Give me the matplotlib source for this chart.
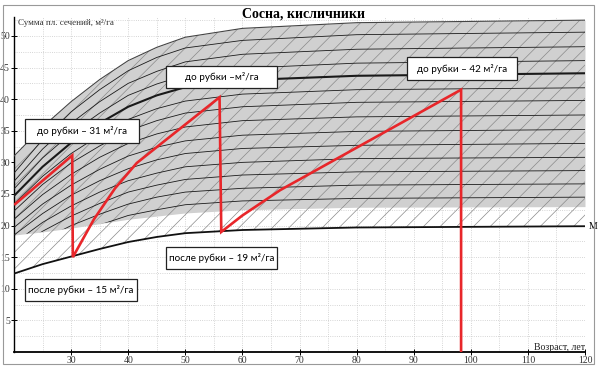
import numpy as np
import matplotlib
matplotlib.use("Agg")
import matplotlib.pyplot as plt
from matplotlib.patches import Polygon, Rectangle

plt.rcParams['hatch.linewidth'] = 0.5

# ages for the background curves of the chart
ages = [20, 25, 30, 35, 40, 45, 50, 60, 80, 120]

# grey band (upper and lower edge) and the M line
band_top = [31.0, 35.6, 39.6, 43.1, 46.1, 48.2, 49.8, 51.2, 52.1, 52.5]
band_low = [18.5, 19.0, 19.6, 20.3, 21.0, 21.5, 22.0, 22.5, 22.9, 23.0]
m_line = [12.4, 13.9, 15.1, 16.3, 17.4, 18.2, 18.8, 19.3, 19.7, 19.9]

# growth curves inside the band (the 4th one is drawn thick)
curves = [
    [28.3, 33.6, 38.0, 41.5, 44.5, 46.6, 48.1, 49.3, 50.2, 50.6],
    [27.0, 32.1, 36.2, 39.6, 42.5, 44.4, 45.9, 47.1, 47.9, 48.3],
    [25.8, 30.7, 34.6, 37.8, 40.6, 42.4, 43.8, 44.9, 45.7, 46.1],
    [24.7, 29.3, 33.1, 36.2, 38.8, 40.6, 41.9, 43.0, 43.7, 44.1],
    [23.4, 27.8, 31.4, 34.3, 36.8, 38.5, 39.7, 40.8, 41.5, 41.8],
    [22.3, 26.5, 29.9, 32.6, 35.0, 36.6, 37.8, 38.8, 39.5, 39.8],
    [21.0, 24.9, 28.1, 30.8, 33.0, 34.5, 35.6, 36.6, 37.2, 37.5],
    [19.7, 23.4, 26.4, 28.9, 31.0, 32.4, 33.4, 34.3, 34.9, 35.2],
    [18.5, 21.9, 24.8, 27.1, 29.0, 30.4, 31.4, 32.2, 32.7, 33.0],
    [17.2, 20.5, 23.1, 25.3, 27.1, 28.3, 29.3, 30.0, 30.6, 30.8],
    [16.1, 19.1, 21.5, 23.5, 25.3, 26.4, 27.3, 28.0, 28.5, 28.7],
    [14.9, 17.7, 20.0, 21.8, 23.4, 24.5, 25.3, 25.9, 26.4, 26.6],
    [13.7, 16.3, 18.4, 20.1, 21.6, 22.5, 23.3, 23.9, 24.3, 24.5],
]
thick_idx = 3

# red thinning path
cut_age = [20.2, 30.2, 30.3, 34.0, 37.7, 41.5, 56.0, 56.3, 60.0, 66.6, 98.3, 98.3]
cut_ba = [23.4, 31.1, 15.0, 21.0, 25.9, 29.9, 40.3, 19.0, 21.6, 25.6, 41.5, 0.0]

labels = ["до рубки – 31 м²/га", "до рубки –м²/га", "до рубки – 42 м²/га",
          "после рубки – 19 м²/га", "после рубки – 15 м²/га"]

W, H = 600, 381
fig = plt.figure(figsize=(W / 100, H / 100), dpi=100)
ax = fig.add_axes([14 / W, 29 / H, 571 / W, 335 / H])
ax.set_xlim(20, 120)
ax.set_ylim(0, 53)

ax.set_xticks(range(30, 121, 10))
ax.set_yticks(range(5, 51, 5))
ax.set_xticks(range(20, 121, 5), minor=True)
ax.set_yticks(np.arange(0, 53, 2.5), minor=True)
ax.grid(which='both', color='#c8c8c8', linestyle=':', linewidth=0.6)
ax.set_axisbelow(True)
ax.tick_params(which='major', direction='inout', length=4, width=0.7, pad=1,
               labelsize=7, labelcolor='#333')
ax.tick_params(which='minor', length=0)
for lab in ax.get_xticklabels() + ax.get_yticklabels():
    lab.set_family('Liberation Serif')
for s in ['top', 'right']:
    ax.spines[s].set_visible(False)
ax.spines['left'].set_linewidth(1.0)
ax.spines['bottom'].set_linewidth(1.3)

# grey band
ax.fill_between(ages, band_low, band_top, color='#d0d0d0', linewidth=0, zorder=1)
# dashed-looking hatching above the M line
ax.fill_between(ages, m_line, band_top, facecolor='none', edgecolor='#8a8a8a',
                hatch='//', linewidth=0, zorder=2)

band_poly = Polygon(np.column_stack([ages + ages[::-1], band_low + band_top[::-1]]),
                    closed=True, transform=ax.transData, facecolor='none', edgecolor='none')
ax.add_patch(band_poly)
for i, c in enumerate(curves):
    ln, = ax.plot(ages, c, color='#1a1a1a', lw=1.5 if i == thick_idx else 0.6, zorder=3)
    ln.set_clip_path(band_poly)
ax.plot(ages, band_top, color='#444', lw=0.8, zorder=3)

ax.plot(ages, m_line, color='#111', lw=1.3, zorder=3)
ax.text(120.6, m_line[-1], 'M', fontsize=7, family='Liberation Serif',
        va='center', ha='left', clip_on=False)

ax.plot(cut_age, cut_ba, color='#e8262a', lw=1.9, zorder=5, solid_joinstyle='miter')

# text boxes (pixel positions x0, y0, x1, y1 from top-left)
boxes = [(25, 119, 139, 143), (166, 66, 277, 88), (407, 57, 517, 80),
         (166, 247, 277, 269), (25, 279, 137, 301)]
for (x0, y0, x1, y1), t in zip(boxes, labels):
    fig.patches.append(Rectangle((x0 / W, 1 - y1 / H), (x1 - x0) / W, (y1 - y0) / H,
                                 transform=fig.transFigure, facecolor='white',
                                 edgecolor='#222', linewidth=0.9, zorder=6))
    fig.text((x0 + x1) / 2 / W, 1 - (y0 + y1) / 2 / H, t, ha='center', va='center',
             fontsize=7.1, family='Lato', zorder=7)

fig.text(303 / W, 1 - 14 / H, 'Сосна, кисличники', ha='center', va='center',
         fontsize=10, fontweight='bold', family='Liberation Serif')
fig.text(18 / W, 1 - 23 / H, 'Сумма пл. сечений, м²/га', ha='left', va='center',
         fontsize=6.5, family='Liberation Serif', color='#333')
fig.text(585 / W, 1 - 347 / H, 'Возраст, лет', ha='right', va='center',
         fontsize=7, family='Liberation Serif', color='#222')

fig.patches.append(Rectangle((3 / W, 1 - 364 / H), 591 / W, 359 / H,
                             transform=fig.transFigure, fill=False,
                             edgecolor='#999', linewidth=0.8))

fig.savefig('out.png', dpi=100)
